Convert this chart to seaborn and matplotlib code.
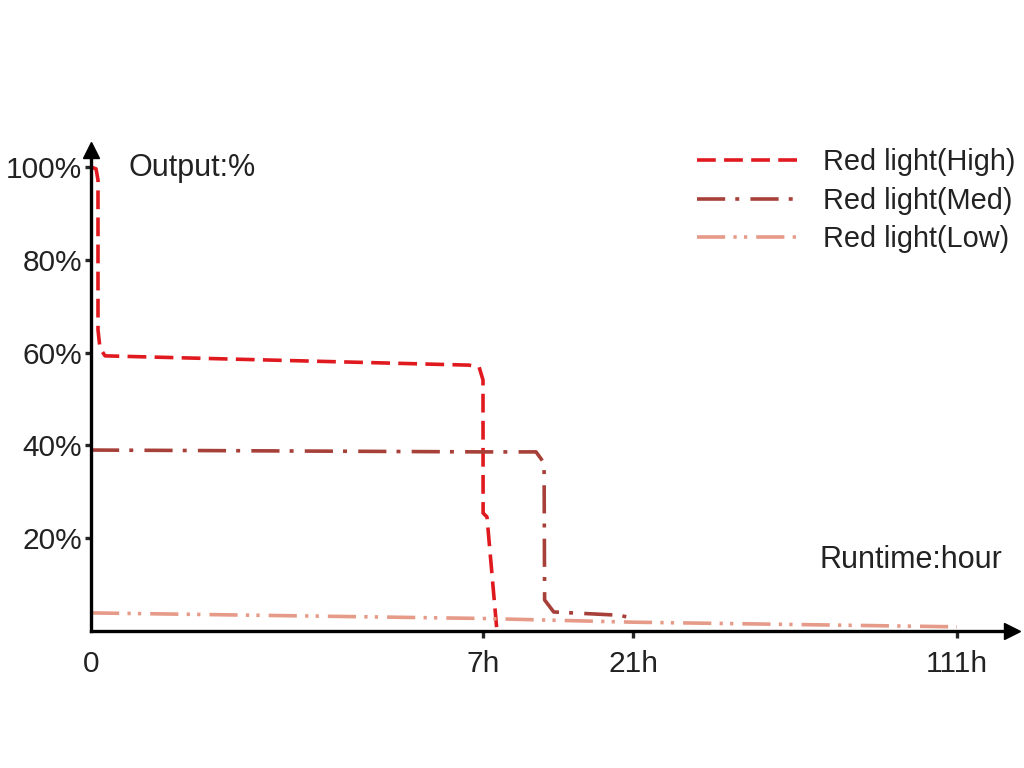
import numpy as np
import pandas as pd
import matplotlib
matplotlib.use("Agg")
import matplotlib.pyplot as plt
import seaborn as sns

# Runtime curves (hours, output %)
high_hours = [0, 0.09, 0.125, 0.125, 0.16, 0.25, 6.75, 6.93, 7.0, 7.01, 7.37, 8.3]
high_output = [100, 99.6, 97.2, 64.9, 61.0, 59.3, 57.3, 56.9, 54.1, 25.4, 24.6, 0]

med_hours = [0, 7, 11.95, 12.7, 12.75, 13.6, 19.7, 20.9]
med_output = [39.0, 38.6, 38.6, 36.2, 6.7, 4.1, 3.4, 2.8]

low_hours = [0, 7, 21, 111]
low_output = [3.9, 2.7, 1.9, 0.9]

series_names = ["Red light(High)", "Red light(Med)", "Red light(Low)"]
x_ticks = [0, 7, 21, 111]
x_tick_labels = ["0", "7h", "21h", "111h"]
y_ticks = [20, 40, 60, 80, 100]
y_tick_labels = ["20%", "40%", "60%", "80%", "100%"]

# the time axis is drawn piecewise-linear (not to scale)
scale_hours = [0, 7, 21, 111, 200]
scale_pos = [0, 392, 542, 866, 1186.4]


def fwd(h):
    return np.interp(h, scale_hours, scale_pos)


def inv(p):
    return np.interp(p, scale_pos, scale_hours)


sns.set_theme(style="white")
plt.rcParams["font.family"] = ["Liberation Sans", "DejaVu Sans"]
text_color = "#222222"

fig = plt.figure(figsize=(10.24, 7.68), dpi=100)
W, H = 1024, 768
left, right, top, bottom = 91, 1012, 150, 631
ax = fig.add_axes([left / W, 1 - bottom / H, (right - left) / W, (bottom - top) / H])
ax.set_xscale("function", functions=(fwd, inv))

lw = 2.6
df_high = pd.DataFrame({"hours": high_hours, "output": high_output})
df_med = pd.DataFrame({"hours": med_hours, "output": med_output})
df_low = pd.DataFrame({"hours": low_hours, "output": low_output})

sns.lineplot(data=df_high, x="hours", y="output", ax=ax, estimator=None, sort=False,
             color="#e0191f", lw=lw, linestyle=(0, (5.2, 2.3)), label=series_names[0])
sns.lineplot(data=df_med, x="hours", y="output", ax=ax, estimator=None, sort=False,
             color="#a8403a", lw=lw, linestyle=(0, (7.8, 2.8, 1.1, 3.1)), label=series_names[1])
sns.lineplot(data=df_low, x="hours", y="output", ax=ax, estimator=None, sort=False,
             color="#e69a88", lw=lw, linestyle=(0, (7.8, 2.3, 0.9, 2.0, 0.9, 2.5)), label=series_names[2])

ax.set_xlim(0, inv(right - left))
ax.set_ylim(0, (bottom - top) / 4.64)

for s in ["top", "right"]:
    ax.spines[s].set_visible(False)
for s in ["left", "bottom"]:
    ax.spines[s].set_color("black")
    ax.spines[s].set_linewidth(2.4)

# arrow heads on the axes
ax.plot(0, 1, "^", color="black", ms=11, transform=ax.transAxes, clip_on=False)
ax.plot(1, 0, ">", color="black", ms=11, transform=ax.transAxes, clip_on=False)

ax.set_xticks(x_ticks)
ax.set_xticklabels(x_tick_labels)
ax.set_yticks(y_ticks)
ax.set_yticklabels(y_tick_labels)
ax.tick_params(axis="x", direction="out", length=5, width=2.4, pad=9,
               labelsize=21.5, labelcolor=text_color, bottom=True)
ax.tick_params(axis="y", direction="out", length=4.3, width=2.4, pad=2,
               labelsize=21.5, labelcolor=text_color, left=True)
ax.xaxis.get_major_ticks()[0].tick1line.set_visible(False)
ax.set_xlabel("")
ax.set_ylabel("")

fig.text(128 / W, 1 - 168 / H, "Output:%", fontsize=22, color=text_color, va="center", ha="left")
fig.text(820 / W, 1 - 560 / H, "Runtime:hour", fontsize=22, color=text_color, va="center", ha="left")

ax.legend(loc="upper left", bbox_to_anchor=(697 / W, 1 - 148 / H), bbox_transform=fig.transFigure,
          frameon=False, fontsize=20.8, handlelength=3.45, handletextpad=0.9,
          labelspacing=0.37, borderpad=0, borderaxespad=0, labelcolor=text_color)

fig.savefig("out.png", dpi=100)
